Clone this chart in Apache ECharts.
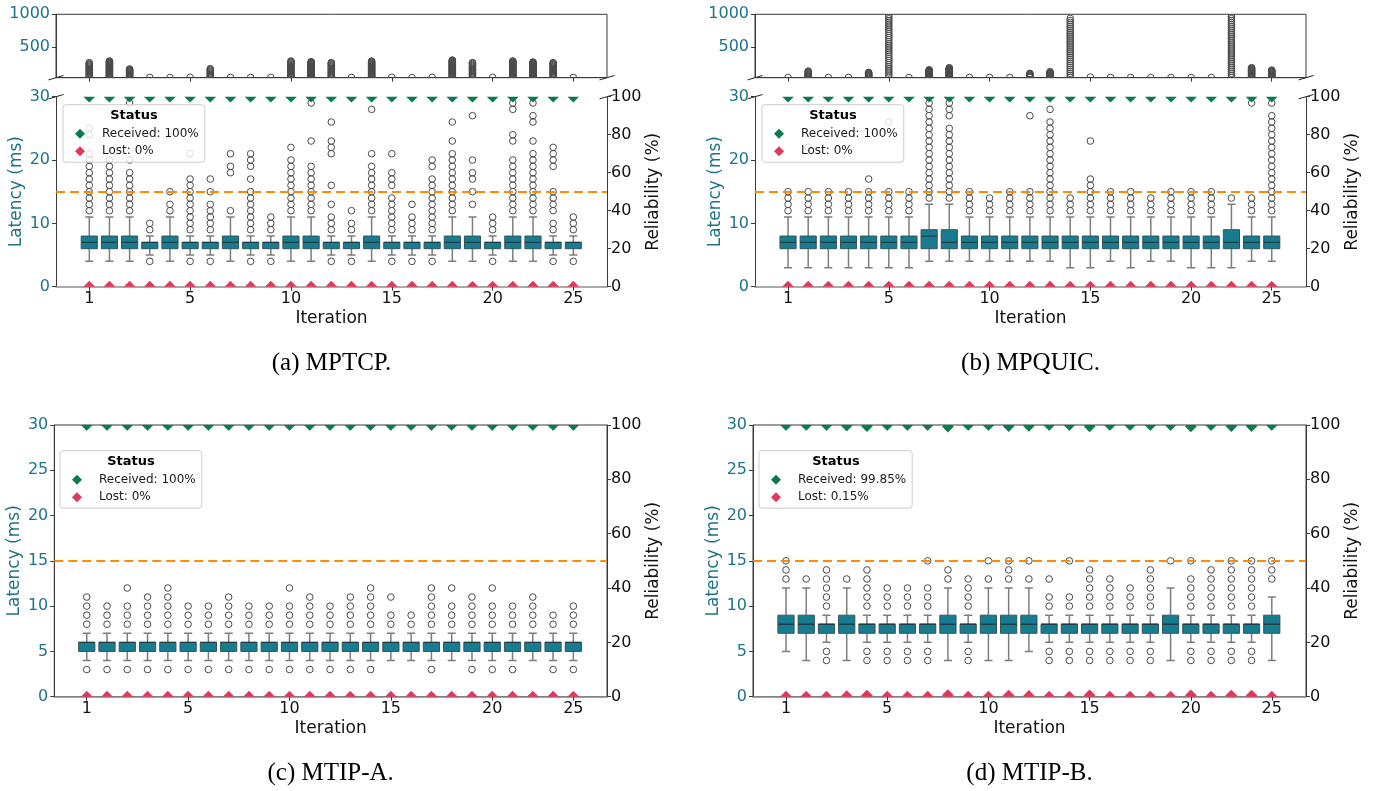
<!DOCTYPE html>
<html><head><meta charset="utf-8">
<script src="https://cdn.jsdelivr.net/npm/echarts@6/dist/echarts.min.js"></script>
<style>html,body{margin:0;padding:0;background:#fff}#c{width:1375px;height:791px}</style>
</head><body><div id="c"></div>
<script>
// ---------------- DATA ----------------
const iterations = [1,2,3,4,5,6,7,8,9,10,11,12,13,14,15,16,17,18,19,20,21,22,23,24,25];
const tickPositions = [0,5,10,15,20,24];
const tickLabels = ['1','5','10','15','20','25'];
const latencyThreshold = 15;

// box stats per iteration: [whiskerLow, Q1, median, Q3, whiskerHigh] (ms)
const mptcpBoxes = [
 [4,6,7,8,11],[4,6,7,8,11],[4,6,7,8,11],[5,6,7,7,8],[4,6,7,8,11],
 [5,6,7,7,8],[5,6,7,7,8],[4,6,7,8,11],[5,6,7,7,8],[5,6,7,7,8],
 [4,6,7,8,11],[4,6,7,8,11],[5,6,7,7,8],[5,6,7,7,8],[4,6,7,8,11],
 [5,6,7,7,8],[5,6,7,7,8],[5,6,7,7,8],[4,6,7,8,11],[4,6,7,8,11],
 [5,6,7,7,8],[4,6,7,8,11],[4,6,7,8,11],[5,6,7,7,8],[5,6,7,7,8]];
const mptcpOutliers = [
 [12,13,14,15,16,17,18,19,20,21,24,25],[12,13,14,15,16,17,18,19,20],[12,13,14,15,16,17,18,20,29],[4,9,10],[12,13,15],
 [4,9,10,11,12,13,14,15,16,17,21],[4,9,10,11,12,13,15,17],[12,18,19,21],[4,9,10,11,12,13,14,15,17,19,20,21],[4,9,10,11],
 [12,13,14,15,16,17,18,19,20,22],[12,13,14,15,16,17,18,19,23,29],[4,9,10,11,13,16,21,22,23,26],[4,9,10,12],[12,13,14,15,16,17,18,19,21,28],
 [4,9,10,11,12,13,14,16,17,18,21],[4,9,10,11,13],[4,9,10,11,12,13,14,15,16,17,19,20],[12,13,14,15,16,17,18,19,20,21,23,26],[13,15,17,18,20,27],
 [4,9,10,11],[12,13,14,15,16,17,18,19,20,23,24,28,29],[12,13,14,15,16,17,18,19,20,21,23,26,27,29],[4,9,10,12,13,14,15,19,20,21,22],[4,9,10,11]];
const mptcpHighOutliers = [
 [33,44,57,69,83,96,110,124,137,151,165,179,193,206,220,234,248,260],
 [32,39,47,55,63,71,79,87,95,103,111,119,127,135,143,151,159,167,175,183,191,199,207,215,223,231,239,247,255,263,271,279,285],
 [32,40,49,58,67,76,85,94,103,112,121,130,139,148,156,163],
 [35],[33],[36],
 [34,47,61,75,89,103,117,131,145,158,168],
 [34],[33],[35],
 [33,45,58,71,84,97,110,123,136,149,162,175,188,201,214,227,240,253,266,278,285],
 [32,39,47,55,63,71,79,87,95,103,111,119,127,135,143,151,159,167,175,183,191,199,207,215,223,231,239,247,255,263,270,275],
 [34,47,61,75,89,103,117,131,145,159,173,187,201,215,229,243,255,260],
 [34],
 [32,40,49,58,67,76,85,94,103,112,121,130,139,148,157,166,175,184,193,202,211,220,229,238,247,256,265,274,285],
 [38],[33],[36],
 [32,39,47,55,63,71,79,87,95,103,111,119,127,135,143,151,159,167,175,183,191,199,207,215,223,231,239,247,255,263,271,279,287,294,300],
 [34,48,62,76,90,104,118,132,146,160,174,188,202,216,230,244,255,260],
 [35],
 [32,39,47,55,63,71,79,87,95,103,111,119,127,135,143,151,159,167,175,183,191,199,207,215,223,231,239,247,255,263,271,279,285],
 [32,40,48,56,64,72,80,88,96,104,112,120,128,136,144,152,160,168,176,184,192,200,208,216,224,232,240,248,256,263,270],
 [34,48,62,76,90,104,118,132,146,160,174,188,202,216,230,244,254,260],
 [33]];
const mptcpReceived = [100,100,100,100,100,100,100,100,100,100,100,100,100,100,100,100,100,100,100,100,100,100,100,100,100];
const mptcpLost =     [0,0,0,0,0,0,0,0,0,0,0,0,0,0,0,0,0,0,0,0,0,0,0,0,0];

const mpquicBoxes = [
 [3,6,7,8,11],[3,6,7,8,11],[3,6,7,8,11],[3,6,7,8,11],[3,6,7,8,11],
 [3,6,7,8,11],[3,6,7,8,11],[4,6,8,9,13],[4,6,7,9,13],[4,6,7,8,11],
 [4,6,7,8,11],[4,6,7,8,11],[4,6,7,8,11],[4,6,7,8,11],[3,6,7,8,11],
 [3,6,7,8,11],[4,6,7,8,11],[3,6,7,8,11],[4,6,7,8,11],[4,6,7,8,11],
 [3,6,7,8,11],[3,6,7,8,11],[3,6,7,9,13],[4,6,7,8,11],[4,6,7,8,11]];
const mpquicOutliers = [
 [12,13,14,15],[12,13,14,15,22],[12,13,14,15],[12,13,14,15],[12,13,14,15,17],
 [12,13,14,15,26],[12,13,14,15],[14,15,16,17,18,19,20,21,22,23,24,25,26,27,28,29],[14,15,16,17,18,19,20,21,22,23,24,25,27,28,29],[12,13,14,15],
 [12,13,14],[12,13,14,15],[12,13,14,15,27],[12,13,14,15,16,17,18,19,20,21,22,23,24,25,26,28],[12,13,14],
 [12,13,14,15,16,17,23],[12,13,14,15],[12,13,14,15],[12,13,14],[12,13,14,15],
 [12,13,14,15],[12,13,14,15],[14],[12,13,14,29],[12,13,14,15,16,17,18,19,20,21,22,23,24,25,26,27,29]];
const mpquicHighOutliers = [
 [34],
 [33,42,52,62,72,82,92,102,112,122,132],
 [33],[34],
 [33,42,51,60,69,78,87,96,104,112],
 [36,68,100,132,164,196,228,260,292,324,356,388,420,452,484,516,548,580,612,644,676,708,740,772,804,836,868,900,932,964,996],
 [33],
 [32,38,45,52,59,66,73,80,87,94,101,108,115,122,129,136,143,152],
 [32,38,45,52,59,66,73,80,87,94,101,108,115,122,129,136,143,150,158,166,174,183],
 [33],[34],[33],
 [33,42,52,62,72,82,90,96],
 [32,40,49,58,67,76,85,94,103,112,122],
 [36,66,96,126,156,186,216,246,276,306,336,366,396,426,456,486,516,546,576,606,636,666,696,726,756,786,816,846,876,906,938],
 [40],[33],[34],[33],[34],[33],[34],
 [35,66,97,128,159,190,221,252,283,314,345,376,407,438,469,500,531,562,593,624,655,686,717,748,779,810,841,872,903,934,965,996],
 [32,40,48,57,66,75,84,93,102,111,120,129,138,147,156,165,174,183],
 [32,40,49,58,67,76,85,94,103,112,121,130,139,147]];
const mpquicReceived = [100,100,100,100,100,100,100,100,100,100,100,100,100,100,100,100,100,100,100,100,100,100,100,100,100];
const mpquicLost =     [0,0,0,0,0,0,0,0,0,0,0,0,0,0,0,0,0,0,0,0,0,0,0,0,0];

const mtipABoxes = [
 [4,5,6,6,7],[4,5,6,6,7],[4,5,6,6,7],[4,5,6,6,7],[4,5,6,6,7],
 [4,5,6,6,7],[4,5,6,6,7],[4,5,6,6,7],[4,5,6,6,7],[4,5,6,6,7],
 [4,5,6,6,7],[4,5,6,6,7],[4,5,6,6,7],[4,5,6,6,7],[4,5,6,6,7],
 [4,5,6,6,7],[4,5,6,6,7],[4,5,6,6,7],[4,5,6,6,7],[4,5,6,6,7],
 [4,5,6,6,7],[4,5,6,6,7],[4,5,6,6,7],[4,5,6,6,7],[4,5,6,6,7]];
const mtipAOutliers = [
 [3,8,9,10,11],[3,8,9,10],[3,8,9,10,12],[3,8,9,10,11],[3,8,9,10,11,12],
 [3,8,9,10],[3,8,9,10],[3,8,9,10,11],[3,8,9,10],[3,8,9,10],
 [3,8,9,10,12],[3,8,9,10,11],[3,8,9,10],[3,8,9,10,11],[3,8,9,10,11,12],
 [8,9,11],[8,9],[3,8,9,10,11,12],[8,9,10,12],[3,8,9,10,11],
 [3,8,9,10,12],[3,8,9,10],[8,9,10,11],[3,8,9],[3,8,9,10]];
const mtipAReceived = [100,100,100,100,100,100,100,100,100,100,100,100,100,100,100,100,100,100,100,100,100,100,100,100,100];
const mtipALost =     [0,0,0,0,0,0,0,0,0,0,0,0,0,0,0,0,0,0,0,0,0,0,0,0,0];

const mtipBBoxes = [
 [5,7,8,9,12],[4,7,8,9,12],[6,7,8,8,9],[4,7,8,9,12],[6,7,8,8,9],
 [6,7,8,8,9],[6,7,8,8,9],[6,7,8,8,9],[4,7,8,9,12],[6,7,8,8,9],
 [4,7,8,9,12],[4,7,8,9,12],[5,7,8,9,12],[6,7,8,8,9],[6,7,8,8,9],
 [6,7,8,8,9],[6,7,8,8,9],[6,7,8,8,9],[6,7,8,8,9],[4,7,8,9,12],
 [6,7,8,8,9],[6,7,8,8,9],[6,7,8,8,9],[6,7,8,8,9],[4,7,8,9,11]];
const mtipBOutliers = [
 [13,14,15],[13],[4,5,10,11,12,13,14],[13],[4,5,10,11,12,13,14],
 [4,5,10,11,12],[4,5,10,11,12],[4,5,10,11,12,15],[13,14],[4,5,10,11,12,13],
 [13,15],[13,14,15],[13,15],[4,5,10,11,13],[4,5,10,11,15],
 [4,5,10,11,12,13,14],[4,5,10,11,12,13],[4,5,10,11,12],[4,5,10,11,12,13,14],[15],
 [4,5,10,11,12,13,15],[4,5,10,11,12,13,14],[4,5,10,11,12,13,14,15],[4,5,10,11,12,13,14,15],[13,14,15]];
const mtipBReceived = [100,100,100,99.8,99.6,100,100,100,99.4,100,100,99.6,99.7,100,100,99.5,100,100,100,100,99.5,100,99.6,99.6,100];
const mtipBLost =     [0,0,0,0.2,0.4,0,0,0,0.6,0,0,0.4,0.3,0,0,0.5,0,0,0,0,0.5,0,0.4,0.4,0];

// ---------------- STYLE ----------------
const FONT = '"DejaVu Sans", sans-serif';
const AX = '#3a3a3a';
const AX_BOTTOM = '#8f8f8f';
const TEAL_TXT = '#1c7488';
const BOX_FILL = '#187c90';
const BOX_EDGE = '#33545b';
const MEDIAN_C = '#203e45';
const WHISKER_C = '#7d7d7d';
const OUTLIER_C = '#4a4a4a';
const GREEN = '#0b7a4c';
const RED = '#e0375b';
const ORANGE = '#ff8c00';

const grids = [], xAxes = [], yAxes = [], series = [], legends = [], graphics = [];

function renderBox(params, api) {
  const x = api.value(0);
  const lo = api.coord([x, api.value(1)]);
  const q1 = api.coord([x, api.value(2)]);
  const md = api.coord([x, api.value(3)]);
  const q3 = api.coord([x, api.value(4)]);
  const hi = api.coord([x, api.value(5)]);
  const w = api.size([0.8, 0])[0];
  const cx = q1[0], cap = w / 4;
  const ws = {stroke: WHISKER_C, lineWidth: 1.5};
  return {type: 'group', children: [
    {type: 'line', shape: {x1: cx, y1: lo[1], x2: cx, y2: q1[1]}, style: ws},
    {type: 'line', shape: {x1: cx, y1: q3[1], x2: cx, y2: hi[1]}, style: ws},
    {type: 'line', shape: {x1: cx - cap, y1: lo[1], x2: cx + cap, y2: lo[1]}, style: ws},
    {type: 'line', shape: {x1: cx - cap, y1: hi[1], x2: cx + cap, y2: hi[1]}, style: ws},
    {type: 'rect', shape: {x: cx - w / 2, y: q3[1], width: w, height: q1[1] - q3[1]},
     style: {fill: BOX_FILL, stroke: BOX_EDGE, lineWidth: 1}},
    {type: 'line', shape: {x1: cx - w / 2, y1: md[1], x2: cx + w / 2, y2: md[1]},
     style: {stroke: MEDIAN_C, lineWidth: 1.3}}
  ]};
}
function renderCircle(params, api) {
  const p = api.coord([api.value(0), api.value(1)]);
  return {type: 'circle', shape: {cx: p[0], cy: p[1], r: 3.3},
    style: {fill: 'none', stroke: OUTLIER_C, lineWidth: 1}};
}
function renderDiamond(color) {
  return function (params, api) {
    const p = api.coord([api.value(0), api.value(1)]);
    const r = 5.6;
    return {type: 'polygon', shape: {points: [[p[0], p[1] - r], [p[0] + r, p[1]], [p[0], p[1] + r], [p[0] - r, p[1]]]},
      style: {fill: color, stroke: color, lineWidth: 0.5}};
  };
}
function flatOutliers(list) {
  const out = [];
  list.forEach((vals, i) => vals.forEach(v => out.push([i, v])));
  return out;
}
function xAxisOpt(g, p, labels) {
  return {type: 'value', gridIndex: g, min: p.xmin, max: p.xmax,
    axisLine: {show: true, onZero: false, lineStyle: {color: labels ? AX_BOTTOM : AX, width: labels ? 1.6 : 1}},
    axisTick: {show: true, length: 4, customValues: tickPositions, lineStyle: {color: AX}},
    axisLabel: {show: labels, customValues: tickPositions, margin: 4,
      formatter: v => tickLabels[tickPositions.indexOf(Math.round(v))],
      color: '#111', fontSize: 16, fontFamily: FONT},
    splitLine: {show: false},
    name: labels ? 'Iteration' : '', nameLocation: 'middle', nameGap: 23,
    nameTextStyle: {fontSize: 17, color: '#111', fontFamily: FONT}};
}

function buildPanel(p) {
  const gB = grids.length;
  grids.push({left: p.left, width: p.width, top: p.bTop, height: p.bHeight,
    show: !p.broken, borderColor: AX, borderWidth: 1});
  const xB = xAxes.length; xAxes.push(xAxisOpt(gB, p, true));
  const yL = yAxes.length;
  yAxes.push({type: 'value', gridIndex: gB, min: 0, max: 30, interval: p.yInterval, position: 'left',
    axisLine: {show: true, onZero: false, lineStyle: {color: AX}},
    axisTick: {show: true, length: 4, lineStyle: {color: AX}},
    axisLabel: {color: TEAL_TXT, fontSize: 16, fontFamily: FONT, margin: 6, formatter: v => String(v)},
    splitLine: {show: false},
    name: 'Latency (ms)', nameLocation: 'middle', nameGap: 31, nameRotate: 90,
    nameTextStyle: {fontSize: 17, color: TEAL_TXT, fontFamily: FONT}});
  const yR = yAxes.length;
  yAxes.push({type: 'value', gridIndex: gB, min: 0, max: 100, interval: 20, position: 'right',
    axisLine: {show: true, onZero: false, lineStyle: {color: AX}},
    axisTick: {show: true, length: 4, lineStyle: {color: AX}},
    axisLabel: {color: '#111', fontSize: 16, fontFamily: FONT, margin: 4, formatter: v => String(v)},
    splitLine: {show: false},
    name: 'Reliability (%)', nameLocation: 'middle', nameGap: 36, nameRotate: 90,
    nameTextStyle: {fontSize: 17, color: '#111', fontFamily: FONT}});

  series.push({type: 'custom', xAxisIndex: xB, yAxisIndex: yL, clip: true, z: 2, silent: true,
    renderItem: renderBox, data: p.boxes.map((b, i) => [i].concat(b))});
  series.push({type: 'custom', xAxisIndex: xB, yAxisIndex: yL, clip: true, z: 3, silent: true,
    renderItem: renderCircle, data: flatOutliers(p.outliers)});
  series.push({type: 'line', xAxisIndex: xB, yAxisIndex: yL, data: [], z: 4, silent: true,
    markLine: {silent: true, symbol: 'none', label: {show: false}, animation: false,
      lineStyle: {color: ORANGE, type: [9, 5], width: 2}, data: [{yAxis: latencyThreshold}]}});
  series.push({type: 'custom', name: p.receivedName, xAxisIndex: xB, yAxisIndex: yR, clip: true, z: 5, silent: true,
    itemStyle: {color: GREEN}, renderItem: renderDiamond(GREEN), data: p.received.map((v, i) => [i, v])});
  series.push({type: 'custom', name: p.lostName, xAxisIndex: xB, yAxisIndex: yR, clip: true, z: 5, silent: true,
    itemStyle: {color: RED}, renderItem: renderDiamond(RED), data: p.lost.map((v, i) => [i, v])});

  if (p.broken) {
    const gT = grids.length;
    grids.push({left: p.left, width: p.width, top: p.tTop, height: p.tHeight, show: true, borderColor: AX, borderWidth: 1});
    const xT = xAxes.length; xAxes.push(xAxisOpt(gT, p, false));
    const yT = yAxes.length;
    yAxes.push({type: 'value', gridIndex: gT, min: 30, max: 1000, position: 'left',
      axisLine: {show: true, onZero: false, lineStyle: {color: AX}},
      axisTick: {show: true, length: 4, customValues: [500, 1000], lineStyle: {color: AX}},
      axisLabel: {customValues: [500, 1000], color: TEAL_TXT, fontSize: 16, fontFamily: FONT, margin: 6,
        formatter: v => String(v)},
      splitLine: {show: false}});
    series.push({type: 'custom', xAxisIndex: xT, yAxisIndex: yT, clip: true, z: 3, silent: true,
      renderItem: renderCircle, data: flatOutliers(p.high)});
    const L = p.left, R = p.left + p.width, yb = p.tTop + p.tHeight, yt = p.bTop;
    [[L, yb], [R, yb], [L, yt], [R, yt]].forEach(c => graphics.push({type: 'line', silent: true,
      shape: {x1: c[0] - 7.5, y1: c[1] + 2.2, x2: c[0] + 7.5, y2: c[1] - 2.2},
      style: {stroke: '#222', lineWidth: 1}}));
  }

  legends.push({left: p.legendLeft, top: p.legendTop, orient: 'vertical', selectedMode: false,
    itemWidth: 10, itemHeight: 10, itemGap: 3.5,
    padding: [22, 6, 4, 12],
    backgroundColor: 'rgba(255,255,255,0.8)', borderColor: '#cccccc', borderWidth: 1, borderRadius: 3,
    textStyle: {fontFamily: FONT, fontSize: 12, color: '#1a1a1a', lineHeight: 14, padding: [0, 0, 0, 12]},
    data: [{name: p.receivedName, icon: 'diamond'}, {name: p.lostName, icon: 'diamond'}]});
  graphics.push({type: 'text', silent: true, z: 100, x: p.legendCenter, y: p.legendTop + 11,
    style: {text: 'Status', fontFamily: FONT, fontSize: 13, fontWeight: 'bold', fill: '#000',
      align: 'center', verticalAlign: 'middle'}});
  graphics.push({type: 'text', silent: true, x: p.left + p.width / 2, y: p.captionY,
    style: {text: p.caption, fontFamily: '"Liberation Serif", serif', fontSize: 25, fill: '#000',
      align: 'center', verticalAlign: 'middle'}});
}

buildPanel({boxes: mptcpBoxes, outliers: mptcpOutliers, high: mptcpHighOutliers,
  received: mptcpReceived, lost: mptcpLost, receivedName: 'Received: 100%', lostName: 'Lost: 0%',
  left: 56, width: 551, xmin: -1.65, xmax: 25.67, bTop: 96.7, bHeight: 190, yInterval: 10,
  broken: true, tTop: 14.3, tHeight: 63.4,
  legendLeft: 63, legendTop: 104.7, legendCenter: 134, caption: '(a) MPTCP.', captionY: 363});
buildPanel({boxes: mpquicBoxes, outliers: mpquicOutliers, high: mpquicHighOutliers,
  received: mpquicReceived, lost: mpquicLost, receivedName: 'Received: 100%', lostName: 'Lost: 0%',
  left: 755, width: 551, xmin: -1.64, xmax: 25.7, bTop: 96.7, bHeight: 190, yInterval: 10,
  broken: true, tTop: 14.3, tHeight: 63.4,
  legendLeft: 762, legendTop: 104.7, legendCenter: 833, caption: '(b) MPQUIC.', captionY: 363});
buildPanel({boxes: mtipABoxes, outliers: mtipAOutliers,
  received: mtipAReceived, lost: mtipALost, receivedName: 'Received: 100%', lostName: 'Lost: 0%',
  left: 54.3, width: 552.7, xmin: -1.6, xmax: 25.66, bTop: 425, bHeight: 271.7, yInterval: 5,
  broken: false,
  legendLeft: 60, legendTop: 450.7, legendCenter: 131, caption: '(c) MTIP-A.', captionY: 773});
buildPanel({boxes: mtipBBoxes, outliers: mtipBOutliers,
  received: mtipBReceived, lost: mtipBLost, receivedName: 'Received: 99.85%', lostName: 'Lost: 0.15%',
  left: 753, width: 553, xmin: -1.63, xmax: 25.69, bTop: 425, bHeight: 271.7, yInterval: 5,
  broken: false,
  legendLeft: 759, legendTop: 450.7, legendCenter: 836, caption: '(d) MTIP-B.', captionY: 773});

const chart = echarts.init(document.getElementById('c'), null, {renderer: 'canvas'});
chart.setOption({
  animation: false,
  backgroundColor: '#ffffff',
  grid: grids, xAxis: xAxes, yAxis: yAxes, series: series, legend: legends,
  graphic: {elements: graphics}
});
</script></body></html>
